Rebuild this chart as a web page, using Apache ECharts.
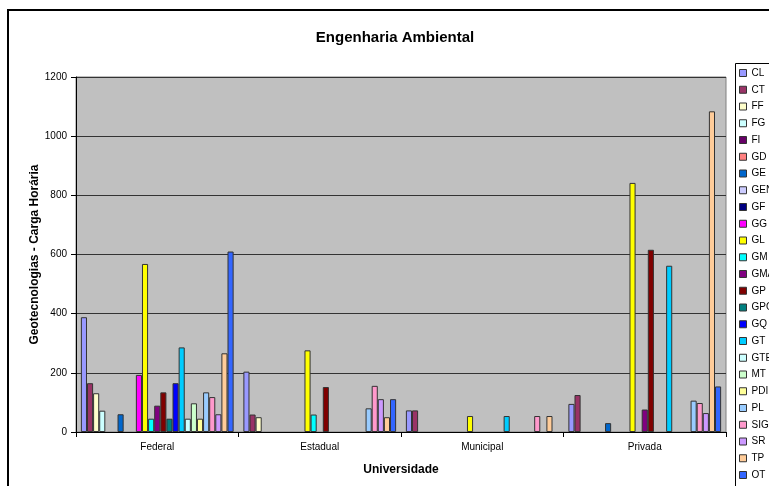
<!DOCTYPE html>
<html>
<head>
<meta charset="utf-8">
<script src="https://cdn.jsdelivr.net/npm/echarts@6/dist/echarts.min.js"></script>
<style>
html,body{margin:0;padding:0;background:#fff;}
#c{width:769px;height:486px;}
</style>
</head>
<body>
<div id="c"></div>
<script>
const categories = ['Federal', 'Estadual', 'Municipal', 'Privada'];
const seriesNames = ['CL','CT','FF','FG','FI','GD','GE','GEN','GF','GG','GL','GM','GMA','GP','GPO','GQ','GT','GTE','MT','PDI','PL','SIG','SR','TP','OT'];
const seriesColors = ['#9999FF','#993366','#FFFFCC','#CCFFFF','#660066','#FF8080','#0066CC','#CCCCFF','#000080','#FF00FF','#FFFF00','#00FFFF','#800080','#800000','#008080','#0000FF','#00CCFF','#CCFFFF','#CCFFCC','#FFFF99','#99CCFF','#FF99CC','#CC99FF','#FFCC99','#3366FF'];
// values per series: [Federal, Estadual, Municipal, Privada]
const CL  = [388, 204, 73, 95];
const CT  = [165, 59, 73, 125];
const FF  = [131, 50, null, null];
const FG  = [72, null, null, null];
const FI  = [null, null, null, null];
const GD  = [null, null, null, null];
const GE  = [60, null, null, 30];
const GEN = [null, null, null, null];
const GF  = [null, null, null, null];
const GG  = [193, null, null, null];
const GL  = [568, 276, 54, 842];
const GM  = [45, 59, null, null];
const GMA = [89, null, null, 76];
const GP  = [134, 152, null, 616];
const GPO = [45, null, null, null];
const GQ  = [165, null, null, null];
const GT  = [286, null, 54, 562];
const GTE = [45, null, null, null];
const MT  = [97, null, null, null];
const PDI = [45, null, null, null];
const PL  = [134, 80, null, 106];
const SIG = [118, 156, 54, 98];
const SR  = [60, 111, null, 64];
const TP  = [266, 50, 54, 1084];
const OT  = [610, 111, null, 154];
const seriesValues = [CL,CT,FF,FG,FI,GD,GE,GEN,GF,GG,GL,GM,GMA,GP,GPO,GQ,GT,GTE,MT,PDI,PL,SIG,SR,TP,OT];
const yTicks = {min: 0, max: 1200, interval: 200};

const FONT = '"Liberation Sans", Arial, sans-serif';
const chart = echarts.init(document.getElementById('c'), null, {renderer: 'canvas'});
const option = {
  backgroundColor: '#fff',
  animation: false,
  title: {
    text: 'Engenharia Ambiental',
    left: 390, top: 25, textAlign: 'center',
    textStyle: {fontFamily: FONT, fontSize: 15, fontWeight: 'bold', color: '#000'}
  },
  graphic: [{
    type: 'rect', silent: true, z: 100,
    shape: {x: 8, y: 10, width: 900, height: 600},
    style: {fill: 'none', stroke: '#000', lineWidth: 2}
  }, {
    type: 'rect', silent: true, z: 0,
    shape: {x: 735.5, y: 63.5, width: 100, height: 500},
    style: {fill: '#fff', stroke: '#000', lineWidth: 1}
  }],
  legend: {
    orient: 'vertical',
    left: 736, top: 64,
    padding: [4, 0, 0, 3],
    itemWidth: 7, itemHeight: 7, itemGap: 6.75,
    icon: 'rect',
    selectedMode: false,
    itemStyle: {borderColor: '#333', borderWidth: 1},
    textStyle: {fontFamily: FONT, fontSize: 10, color: '#000', lineHeight: 10},
    data: seriesNames
  },
  grid: {
    left: 76, top: 77, right: 43, bottom: 54,
    show: true, backgroundColor: '#C0C0C0', borderColor: '#808080', borderWidth: 1
  },
  xAxis: {
    type: 'category',
    data: categories,
    name: 'Universidade',
    nameLocation: 'middle',
    nameGap: 32,
    nameMoveOverlap: false,
    nameTextStyle: {fontFamily: FONT, fontSize: 12, fontWeight: 'bold', color: '#000', verticalAlign: 'top'},
    axisLine: {show: true, lineStyle: {color: '#000', width: 1}},
    axisTick: {show: true, length: 5, interval: 0, lineStyle: {color: '#000'}},
    axisLabel: {fontFamily: FONT, fontSize: 10, color: '#000', margin: 10, interval: 0},
    splitLine: {show: false}
  },
  yAxis: {
    type: 'value',
    min: yTicks.min, max: yTicks.max, interval: yTicks.interval,
    name: 'Geotecnologias - Carga Horária',
    nameLocation: 'middle',
    nameGap: 35,
    nameMoveOverlap: false,
    nameTextStyle: {fontFamily: FONT, fontSize: 12, fontWeight: 'bold', color: '#000'},
    axisLine: {show: true, lineStyle: {color: '#000', width: 1}},
    axisTick: {show: true, length: 5, lineStyle: {color: '#000'}},
    axisLabel: {fontFamily: FONT, fontSize: 10, color: '#000', margin: 9, formatter: v => String(v)},
    splitLine: {show: true, lineStyle: {color: '#333', width: 1}}
  },
  series: seriesNames.map((n, i) => ({
    name: n,
    type: 'bar',
    data: seriesValues[i],
    barGap: 0,
    barCategoryGap: '6%',
    itemStyle: {color: seriesColors[i], borderColor: '#333', borderWidth: 1}
  }))
};
chart.setOption(option);
</script>
</body>
</html>
